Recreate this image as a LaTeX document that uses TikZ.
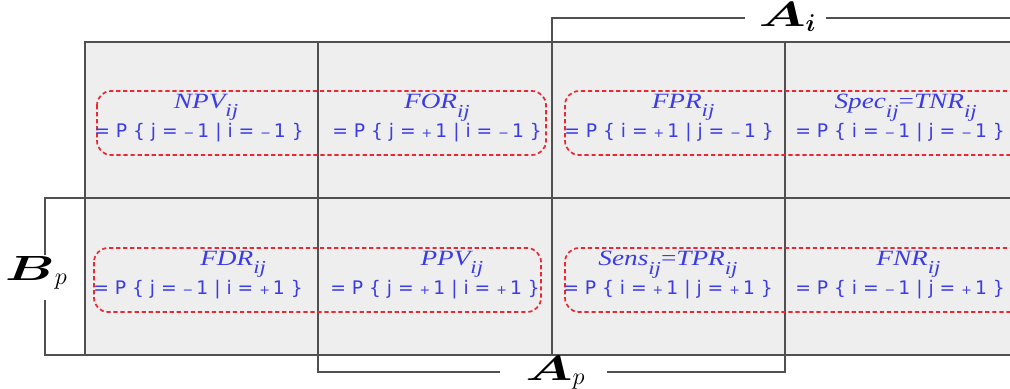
\documentclass[tikz,border=0pt]{standalone}
\usepackage{fontspec}
\usepackage{amsmath,bm}
\newfontfamily\probfont{DejaVu Sans}
\newfontfamily\ratefont{Liberation Serif}
\usetikzlibrary{positioning}

\definecolor{cellgray}{RGB}{238,238,238}
\definecolor{gridline}{RGB}{80,80,80}
\definecolor{txtblue}{RGB}{60,60,228}
\definecolor{boxred}{RGB}{232,40,50}

% small sign in front of the 1
\newcommand{\sg}[1]{{\fontsize{9}{9}\selectfont#1}\,}
% = P { a = s1 | b = t1 }
\newcommand{\cond}[4]{= P \{ #1 = \sg{#2}1 | #3 = \sg{#4}1 \}}
% rate name with its low ij index
\newcommand{\idxij}{\raisebox{-6pt}{\fontsize{13}{13}\selectfont ij}}
\newcommand{\rate}[1]{\scalebox{1.25}[1]{\ratefont\itshape\fontsize{15.5}{15.5}\selectfont#1\idxij}}
\newcommand{\rateeq}{\scalebox{1.25}[1]{\ratefont\fontsize{15.5}{15.5}\selectfont=}}
% stretched bold letter for the brackets
\newcommand{\wide}[1]{\scalebox{1.55}[1]{$\bm{#1}$}}
\newcommand{\low}[1]{\raisebox{-3pt}{\fontsize{16}{16}\selectfont$#1$}}

\begin{document}
\begin{tikzpicture}[
  x=0.025cm, y=-0.025cm,
  cell/.style={align=center, text=txtblue, inner sep=0pt,
    font=\probfont\fontsize{13.3}{20.5}\selectfont},
  hit/.style={draw=boxred, dash pattern=on 3pt off 2pt, line width=1.2pt, rounded corners=10pt},
  rule/.style={draw=gridline, line width=0.9pt},
  brlab/.style={inner sep=0pt, font=\fontsize{24}{26}\selectfont}
]
\useasboundingbox (0,0) rectangle (1010,388);

% table
\fill[cellgray] (85,42) rectangle (1020,355);
\draw[rule] (1020,42) -- (85,42) -- (85,355) -- (1020,355);
\draw[rule] (85,198) -- (1020,198);
\foreach \xc in {318,552,785}
  \draw[rule] (\xc,42) -- (\xc,355);

% grouped outcomes
\draw[hit] (97,91) rectangle (546,155);
\draw[hit] (565,91) rectangle (1030,155);
\draw[hit] (94,248) rectangle (541,312);
\draw[hit] (565,248) rectangle (1030,312);

% rates
\node[cell] (npv) at (199,118) {\hspace*{10pt}\rate{NPV}\\ \cond{j}{−}{i}{−}};
\node[cell] (for) at (437,118) {\rate{FOR}\\ \cond{j}{+}{i}{−}};
\node[cell] (fpr) at (669,118) {\hspace*{20pt}\rate{FPR}\\ \cond{i}{+}{j}{−}};
\node[cell] (spec) at (900,118) {\hspace*{8pt}\rate{Spec}\rateeq\rate{TNR}\\ \cond{i}{−}{j}{−}};
\node[cell] (fdr) at (198,275) {\hspace*{50pt}\rate{FDR}\\ \cond{j}{−}{i}{+}};
\node[cell] (ppv) at (435,275) {\hspace*{24pt}\rate{PPV}\\ \cond{j}{+}{i}{+}};
\node[cell] (sens) at (668,275) {\rate{Sens}\rateeq\rate{TPR}\\ \cond{i}{+}{j}{+}};
\node[cell] (fnr) at (900,275) {\hspace*{12pt}\rate{FNR}\\ \cond{i}{−}{j}{+}};

% brackets
\node[brlab] (ai) at (787,17) {\wide{A}\raisebox{-4pt}{\fontsize{16}{16}\selectfont$\bm{i}$}};
\node[brlab] (bp) at (36,273) {\wide{B}\low{p}};
\node[brlab] (ap) at (555,373) {\wide{A}\low{p}};

\coordinate (aiL) at (552,42);
\coordinate (aiR) at (1010,18);
\coordinate (bpT) at (85,198);
\coordinate (bpB) at (85,355);
\coordinate (apL) at (318,355);
\coordinate (apR) at (785,355);

\draw[rule] (745,18) -- (aiL |- 0,18) -- (aiL);
\draw[rule] (826,18) -- (aiR);
\draw[rule] (bpT) -- (45,198) -- (45,255);
\draw[rule] (45,300) -- (45,355) -- (bpB);
\draw[rule] (apL) -- (318,372) -- (500,372);
\draw[rule] (607,372) -- (785,372) -- (apR);
\end{tikzpicture}
\end{document}
